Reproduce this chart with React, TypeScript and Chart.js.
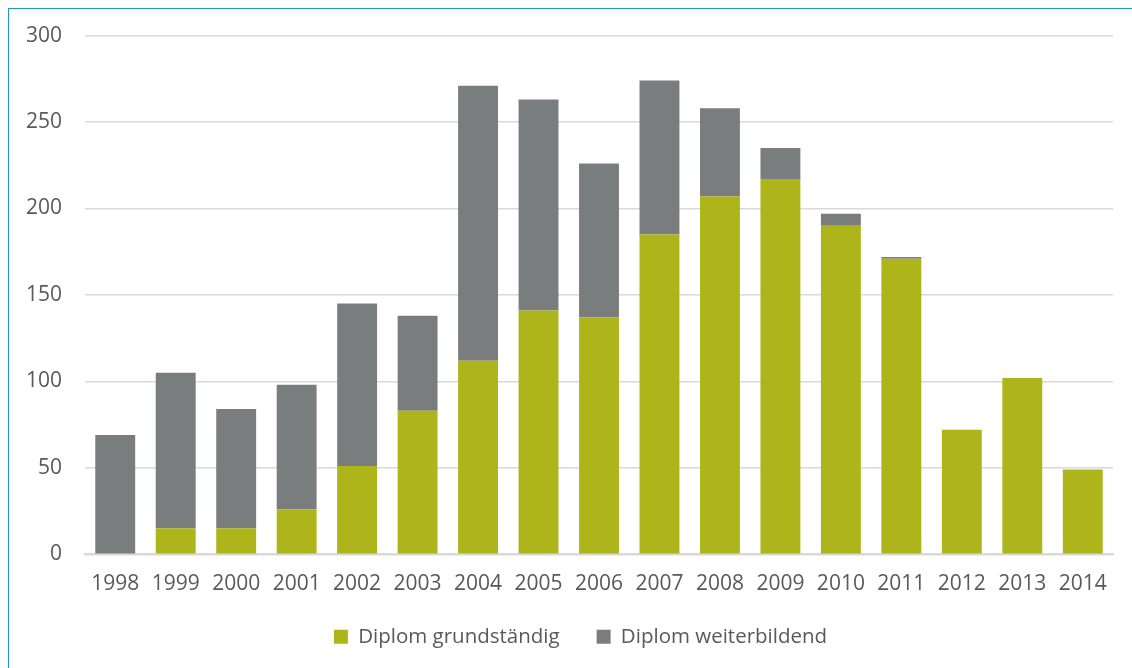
import React, { useEffect, useRef } from "react";
import { Chart, registerables } from "chart.js";

Chart.register(...registerables);

const categories = ["1998","1999","2000","2001","2002","2003","2004","2005","2006","2007","2008","2009","2010","2011","2012","2013","2014"];
const grundstaendig = [0, 15, 15, 26, 51, 83, 112, 141, 137, 185, 207, 217, 190, 171, 72, 102, 49];
const weiterbildend = [69, 90, 69, 72, 94, 55, 159, 122, 89, 89, 51, 18, 7, 1, 0, 0, 0];
const seriesNames = ["Diplom grundständig", "Diplom weiterbildend"];

const legendShift = {
  id: "legendShift",
  afterLayout(chart: any) {
    const lg = chart.legend;
    if (lg) {
      lg.left += 24;
      lg.right += 24;
    }
  },
};

export default function App() {
  const ref = useRef<HTMLCanvasElement | null>(null);
  useEffect(() => {
    if (!ref.current) return;
    const font = "'Open Sans', sans-serif";
    const chart = new Chart(ref.current, {
      type: "bar",
      data: {
        labels: categories,
        datasets: [
          { label: seriesNames[0], data: grundstaendig, backgroundColor: "#adb51a", barPercentage: 0.66, categoryPercentage: 1 },
          { label: seriesNames[1], data: weiterbildend, backgroundColor: "#7a7d7e", barPercentage: 0.66, categoryPercentage: 1 },
        ],
      },
      plugins: [legendShift],
      options: {
        animation: false,
        responsive: false,
        layout: { padding: { top: 35, right: 19, left: 0, bottom: 11 } },
        plugins: {
          tooltip: { enabled: false },
          legend: {
            position: "bottom",
            labels: {
              color: "#595959",
              font: { family: font, size: 20.5 },
              boxWidth: 14,
              boxHeight: 14,
              padding: 21,
              generateLabels: (c: any) => {
                const items = Chart.defaults.plugins.legend.labels.generateLabels(c);
                items.forEach((it: any, i: number) => {
                  it.lineWidth = 0;
                  if (i === 0) it.text = it.text + "   ";
                });
                return items;
              },
            },
          },
        },
        scales: {
          x: {
            stacked: true,
            grid: { display: false },
            border: { color: "#d9d9d9", width: 2 },
            ticks: { color: "#595959", font: { family: font, size: 21 }, padding: 9, maxRotation: 0 },
          },
          y: {
            stacked: true,
            min: 0,
            max: 300,
            grid: { color: "#d9d9d9", lineWidth: 1.5, drawTicks: false },
            border: { display: false },
            ticks: { stepSize: 50, color: "#595959", font: { family: font, size: 21 }, padding: 23 },
            afterFit: (s: any) => { s.width = 85; },
          },
        },
      },
    });
    return () => chart.destroy();
  }, []);
  return (
    <div style={{ position: "fixed", left: 0, top: 0, width: 1132, height: 668, background: "#fff" }}>
      <div style={{ position: "absolute", left: 8, top: 8, right: -4, bottom: -4, borderLeft: "1.5px solid #2596be", borderTop: "1.5px solid #2596be" }} />
      <canvas ref={ref} width={1132} height={668} style={{ position: "absolute", left: 0, top: 0 }} />
    </div>
  );
}
